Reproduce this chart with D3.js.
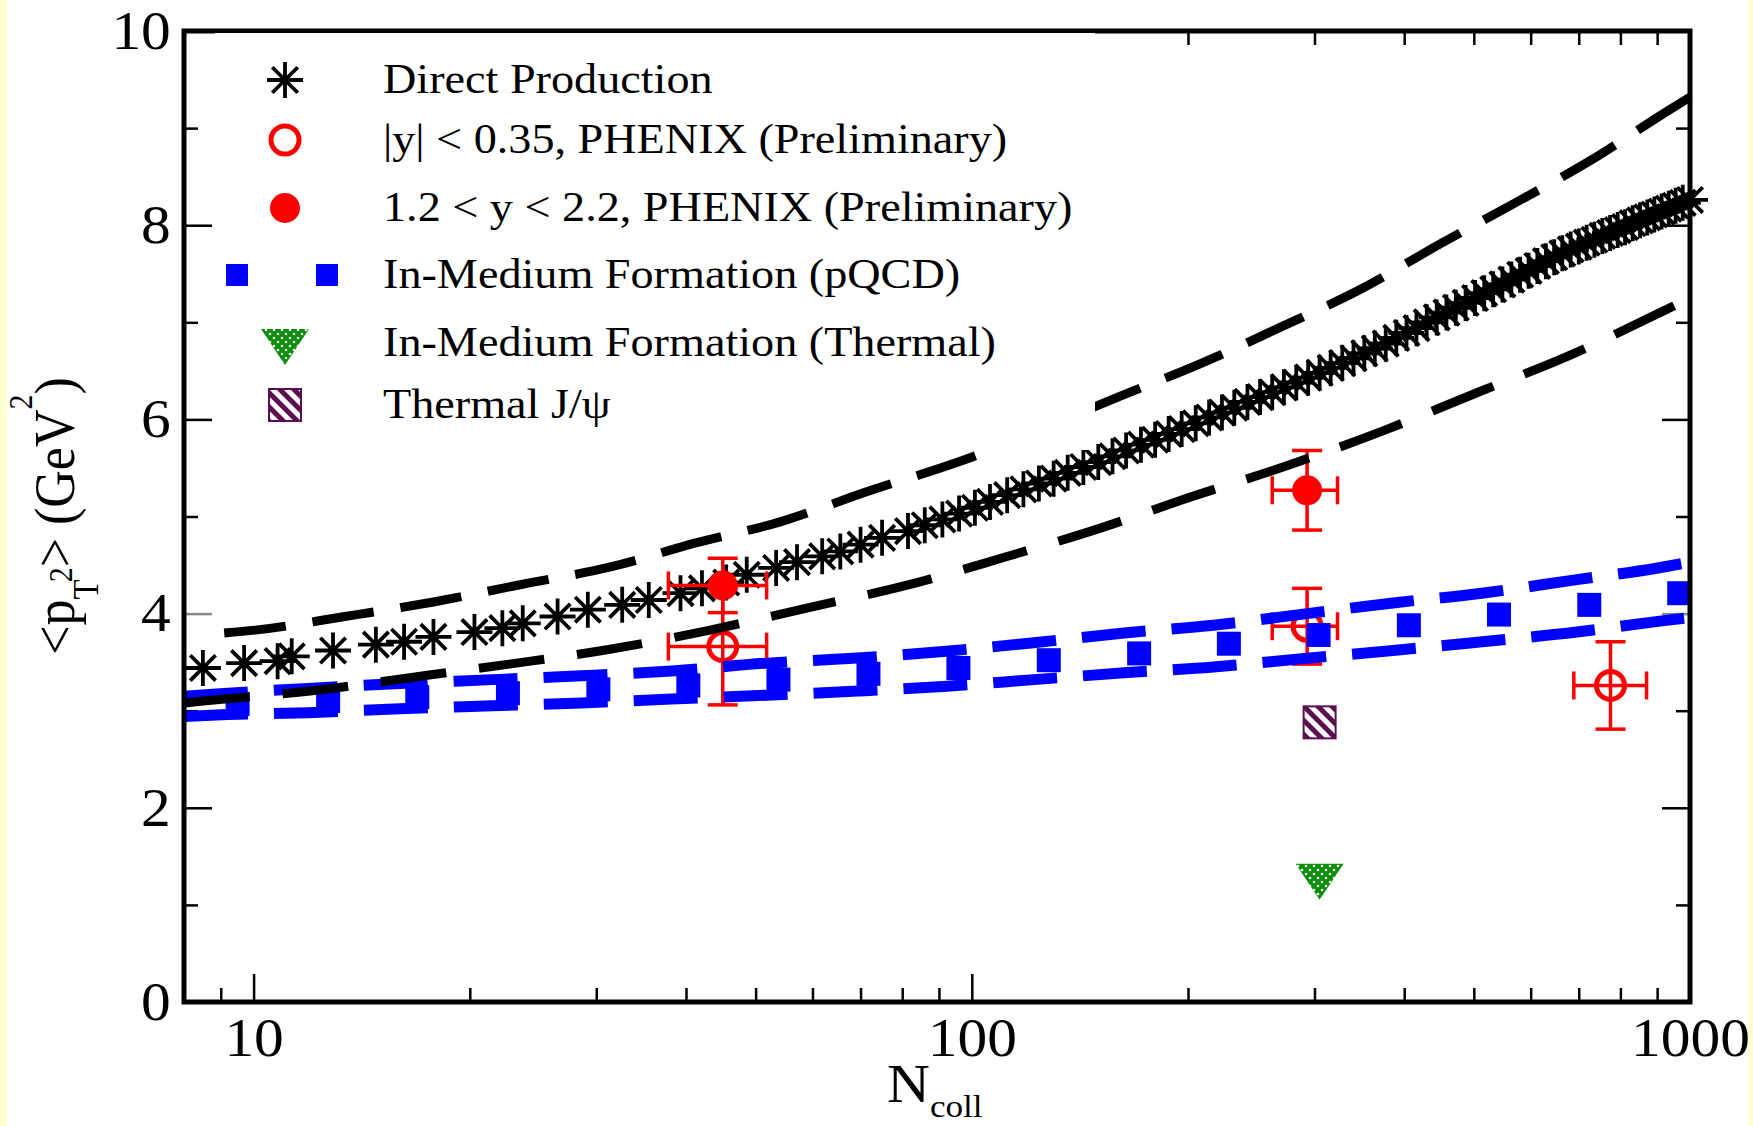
<!DOCTYPE html>
<html>
<head>
<meta charset="utf-8">
<script src="https://cdnjs.cloudflare.com/ajax/libs/d3/7.8.5/d3.min.js"></script>
<style>
	html, body { margin: 0; padding: 0; background: #fff; }
	svg { display: block; }
	text { font-family: 'Liberation Serif', 'Times New Roman', serif; fill: #000; }
</style>
</head>
<body>
<div class="container-viewer"></div>
<script>
//* METHODS FROM D3 *//
const { select, scaleLog, scaleLinear, axisBottom, axisTop, axisLeft, axisRight, line, curveMonotoneX, zip, format } = d3;

//-------------

//* DATA *//
// Direct production (asterisks), Ncoll and <pT^2>
const directN = [8.5, 9.7, 10.8, 11.3, 12.9, 14.8, 16.2, 17.8, 20.3, 22.2, 23.7, 26.5, 29.2, 32.6, 35.5, 39.3, 42.1, 45.5, 48.6, 53.4,
	57.1, 61.9, 65.6, 70, 75, 81.5, 86, 91, 96, 101, 106, 112, 118, 124, 130, 136, 143, 150, 157, 164, 172, 180, 188, 196,
	205, 214, 223, 232, 242, 252, 262, 272, 283, 294, 305, 316, 328, 340, 352, 364, 377, 390, 403, 416, 430, 444, 458, 472,
	487, 502, 517, 532, 548, 564, 580, 596, 613, 630, 647, 664, 682, 700, 718, 736, 755, 774, 793, 812, 832, 852, 872, 892,
	913, 934, 955, 977, 1000];
const directY = [3.44, 3.49, 3.51, 3.56, 3.62, 3.68, 3.71, 3.76, 3.81, 3.85, 3.9, 3.97, 4.04, 4.09, 4.14, 4.21, 4.26, 4.32, 4.4, 4.47,
	4.53, 4.59, 4.64, 4.71, 4.78, 4.85, 4.91, 4.97, 5.03, 5.09, 5.15, 5.22, 5.28, 5.34, 5.39, 5.45, 5.51, 5.56, 5.62, 5.68, 5.74, 5.79, 5.85, 5.9,
	5.96, 6.02, 6.07, 6.12, 6.18, 6.23, 6.28, 6.33, 6.38, 6.43, 6.48, 6.53, 6.58, 6.63, 6.68, 6.73, 6.78, 6.84, 6.89, 6.94, 7.0, 7.05, 7.1, 7.15,
	7.2, 7.25, 7.3, 7.34, 7.39, 7.44, 7.49, 7.53, 7.58, 7.63, 7.67, 7.71, 7.75, 7.78, 7.82, 7.85, 7.89, 7.92, 7.95, 7.98, 8.02, 8.05, 8.08, 8.11,
	8.14, 8.17, 8.2, 8.23, 8.26];

// Upper and lower edge of the direct production band (black dashed)
const directUpperN = [9.1, 10.05, 13.4, 17.8, 23.6, 31.4, 41.4, 54.4, 71.7, 94.8, 161, 209, 271, 350, 447, 571, 728, 923, 1000];
const directUpperY = [3.8, 3.83, 3.97, 4.12, 4.3, 4.48, 4.73, 4.95, 5.26, 5.55, 6.24, 6.58, 6.96, 7.35, 7.8, 8.23, 8.67, 9.16, 9.32];
const directLowerN = [8, 8.5, 11.9, 16.5, 22.7, 31.2, 43.2, 59.1, 81, 111, 151, 196, 279, 376, 507, 685, 908, 1000];
const directLowerY = [3.08, 3.1, 3.2, 3.34, 3.48, 3.63, 3.83, 4.06, 4.29, 4.58, 4.88, 5.17, 5.54, 5.89, 6.28, 6.67, 7.1, 7.25];

// In-medium formation (pQCD): band edges (blue dashed) and central squares
const pqcdBandN = [8, 9.2, 11.9, 16, 21.5, 28.6, 38.2, 51.9, 68.3, 91.2, 122, 163, 217, 293, 386, 513, 696, 902, 1000];
const pqcdUpperY = [3.15, 3.18, 3.23, 3.28, 3.32, 3.36, 3.41, 3.49, 3.54, 3.61, 3.7, 3.8, 3.88, 4.0, 4.11, 4.21, 4.35, 4.47, 4.53];
const pqcdLowerY = [2.94, 2.96, 2.98, 3.02, 3.05, 3.08, 3.12, 3.16, 3.2, 3.25, 3.32, 3.39, 3.45, 3.54, 3.62, 3.71, 3.81, 3.92, 3.96];
const pqcdN = [9.5, 12.7, 16.9, 22.6, 30.2, 40.3, 53.8, 71.8, 95.8, 128, 171, 228, 304, 406, 542, 724, 966];
const pqcdY = [3.07, 3.1, 3.14, 3.18, 3.22, 3.26, 3.32, 3.38, 3.44, 3.52, 3.59, 3.69, 3.78, 3.88, 3.99, 4.09, 4.21];

// PHENIX points: [Ncoll, <pT^2>, error <pT^2>, Ncoll low, Ncoll high]
const phenixMid = [[45, 3.66, 0.6, 37.8, 51.8], [293, 3.87, 0.39, 262, 323], [775, 3.26, 0.45, 689, 870]];
const phenixForward = [[45, 4.29, 0.28, 37.8, 51.8], [293, 5.27, 0.41, 262, 323]];

// Single thermal points
const thermalFormation = [[305, 1.28]];
const thermalJpsi = [[305, 2.88]];

// Ticks and texts
const xMajorTicks = [10, 100, 1000];
const xMinorTicks = [9, 20, 30, 40, 50, 60, 70, 80, 90, 200, 300, 400, 500, 600, 700, 800, 900];
const yMajorTicks = [0, 2, 4, 6, 8, 10];
const yMinorTicks = [1, 3, 5, 7, 9];
const legendLabels = [
	'Direct Production',
	'|y| < 0.35, PHENIX (Preliminary)',
	'1.2 < y < 2.2, PHENIX (Preliminary)',
	'In-Medium Formation (pQCD)',
	'In-Medium Formation (Thermal)',
	'Thermal J/\u03c8',
];

//-------------

//* LAYOUT *//
const width = 1753;
const height = 1126;
const plot = { left: 184, right: 1690, top: 31, bottom: 1002 };
const stretch = 1.1; // the original picture is a bit wider than tall
const red = '#ff0000';
const blue = '#0000ff';
const green = '#0a8f0a';
const purple = '#5c0f50';

const x = scaleLog().domain([8, 1000]).range([plot.left, plot.right]);
const y = scaleLinear().domain([0, 10]).range([plot.bottom, plot.top]);

const svg = select('.container-viewer').append('svg').attr('width', width).attr('height', height);

// light yellow strips on both sides of the slide
svg.append('rect').attr('x', 0).attr('y', 0).attr('width', 7).attr('height', height).attr('fill', '#ffffd0');
svg.append('rect').attr('x', 1748).attr('y', 0).attr('width', 5).attr('height', height).attr('fill', '#ffffd0');

// patterns for the thermal markers
const defs = svg.append('defs');
const dots = defs.append('pattern').attr('id', 'dots').attr('patternUnits', 'userSpaceOnUse').attr('width', 8).attr('height', 8);
dots.append('rect').attr('width', 8).attr('height', 8).attr('fill', green);
dots.append('circle').attr('cx', 2).attr('cy', 2).attr('r', 1.3).attr('fill', '#fff');
dots.append('circle').attr('cx', 6).attr('cy', 6).attr('r', 1.3).attr('fill', '#fff');
const hatch = defs.append('pattern').attr('id', 'hatch').attr('patternUnits', 'userSpaceOnUse')
	.attr('width', 10).attr('height', 10).attr('patternTransform', 'rotate(-45)');
hatch.append('rect').attr('width', 10).attr('height', 10).attr('fill', '#fff');
hatch.append('rect').attr('width', 5).attr('height', 10).attr('fill', purple);

//-------------

//* AXES *//
function drawAxis(axis, tx, ty) {
	const g = svg.append('g').attr('transform', `translate(${tx},${ty})`).call(axis);
	g.select('.domain').remove();
	g.selectAll('.tick line').attr('stroke', '#000').attr('stroke-width', 2.5);
	g.selectAll('.tick text')
		.attr('font-family', 'Liberation Serif')
		.attr('font-size', 54)
		.attr('fill', '#000')
		.attr('transform', `scale(${stretch},1)`);
	g.selectAll('.tick').filter((d) => d === 4).select('line').attr('stroke', '#888');
	return g;
}

drawAxis(axisBottom(x).tickValues(xMajorTicks).tickSizeInner(-28).tickSizeOuter(0).tickPadding(16).tickFormat(format('d')), 0, plot.bottom);
drawAxis(axisBottom(x).tickValues(xMinorTicks).tickSizeInner(-14).tickSizeOuter(0).tickFormat(''), 0, plot.bottom);
drawAxis(axisTop(x).tickValues(xMajorTicks).tickSizeInner(-28).tickSizeOuter(0).tickFormat(''), 0, plot.top);
drawAxis(axisTop(x).tickValues(xMinorTicks).tickSizeInner(-14).tickSizeOuter(0).tickFormat(''), 0, plot.top);
drawAxis(axisLeft(y).tickValues(yMajorTicks).tickSizeInner(-28).tickSizeOuter(0).tickPadding(12).tickFormat(format('d')), plot.left, 0);
drawAxis(axisLeft(y).tickValues(yMinorTicks).tickSizeInner(-14).tickSizeOuter(0).tickFormat(''), plot.left, 0);
drawAxis(axisRight(y).tickValues(yMajorTicks).tickSizeInner(-28).tickSizeOuter(0).tickFormat(''), plot.right, 0);
drawAxis(axisRight(y).tickValues(yMinorTicks).tickSizeInner(-14).tickSizeOuter(0).tickFormat(''), plot.right, 0);

//-------------

//* MARKERS *//
function asteriskPath(r) {
	const d = r * Math.SQRT1_2;
	return `M${-r},0H${r}M0,${-r}V${r}M${-d},${-d}L${d},${d}M${-d},${d}L${d},${-d}`;
}
function drawAsterisk(g, cx, cy) {
	g.append('path').attr('transform', `translate(${cx},${cy})`).attr('d', asteriskPath(18))
		.attr('fill', 'none').attr('stroke', '#000').attr('stroke-width', 3.8);
}
function drawCircle(g, cx, cy, filled) {
	if (filled) g.append('circle').attr('cx', cx).attr('cy', cy).attr('r', 15).attr('fill', red);
	else g.append('circle').attr('cx', cx).attr('cy', cy).attr('r', 14).attr('fill', 'none').attr('stroke', red).attr('stroke-width', 5);
}
function drawSquare(g, cx, cy, s) {
	g.append('rect').attr('x', cx - s / 2).attr('y', cy - s / 2).attr('width', s).attr('height', s).attr('fill', blue);
}
function drawTriangle(g, cx, cy) {
	g.append('path').attr('d', `M${cx - 24},${cy - 14}L${cx + 24},${cy - 14}L${cx},${cy + 22}Z`).attr('fill', 'url(#dots)');
}
function drawHatchSquare(g, cx, cy) {
	g.append('rect').attr('x', cx - 16).attr('y', cy - 16).attr('width', 32).attr('height', 32)
		.attr('fill', 'url(#hatch)').attr('stroke', purple).attr('stroke-width', 2);
}

//-------------

//* SERIES *//
// Direct production asterisks
const starsG = svg.append('g');
zip(directN, directY).forEach(([n, v]) => drawAsterisk(starsG, x(n), y(v)));

// PHENIX data with error bars
function drawPhenix(data, filled) {
	const g = svg.append('g');
	data.forEach(([n, v, err, lo, hi]) => {
		const cx = x(n);
		const cy = y(v);
		const bars = g.append('g').attr('stroke', red).attr('stroke-width', 3.5);
		bars.append('line').attr('x1', cx).attr('x2', cx).attr('y1', y(v + err)).attr('y2', y(v - err));
		bars.append('line').attr('x1', x(lo)).attr('x2', x(hi)).attr('y1', cy).attr('y2', cy);
		[y(v + err), y(v - err)].forEach((yy) => bars.append('line').attr('x1', cx - 15).attr('x2', cx + 15).attr('y1', yy).attr('y2', yy));
		[x(lo), x(hi)].forEach((xx) => bars.append('line').attr('x1', xx).attr('x2', xx).attr('y1', cy - 14).attr('y2', cy + 14));
		drawCircle(g, cx, cy, filled);
	});
}
drawPhenix(phenixMid, false);
drawPhenix(phenixForward, true);

// pQCD band
const curve = line().x((d) => x(d[0])).y((d) => y(d[1])).curve(curveMonotoneX);
[pqcdUpperY, pqcdLowerY].forEach((vals) => {
	svg.append('path').datum(zip(pqcdBandN, vals)).attr('d', curve)
		.attr('fill', 'none').attr('stroke', blue).attr('stroke-width', 11).attr('stroke-dasharray', '64,26');
});
const squaresG = svg.append('g');
zip(pqcdN, pqcdY).forEach(([n, v]) => drawSquare(squaresG, x(n), y(v), 24));

// direct production band edges
svg.append('path').datum(zip(directUpperN, directUpperY)).attr('d', curve)
	.attr('fill', 'none').attr('stroke', '#000').attr('stroke-width', 9).attr('stroke-dasharray', '62,27');
svg.append('path').datum(zip(directLowerN, directLowerY)).attr('d', curve)
	.attr('fill', 'none').attr('stroke', '#000').attr('stroke-width', 9).attr('stroke-dasharray', '66,33');

// thermal points
const thermalG = svg.append('g');
thermalJpsi.forEach(([n, v]) => drawHatchSquare(thermalG, x(n), y(v)));
thermalFormation.forEach(([n, v]) => drawTriangle(thermalG, x(n), y(v)));

// frame
svg.append('rect').attr('x', plot.left).attr('y', plot.top)
	.attr('width', plot.right - plot.left).attr('height', plot.bottom - plot.top)
	.attr('fill', 'none').attr('stroke', '#000').attr('stroke-width', 5);

//-------------

//* LEGEND *//
// white legend box, it hides the top ticks below 200
svg.append('rect').attr('x', 215).attr('y', 33).attr('width', 880).attr('height', 417).attr('fill', '#fff');

const legendG = svg.append('g');
const rowY = [80, 140, 208, 275, 343, 405];
drawAsterisk(legendG, 285, rowY[0]);
drawCircle(legendG, 285, rowY[1], false);
drawCircle(legendG, 285, rowY[2], true);
drawSquare(legendG, 237, rowY[3], 22);
drawSquare(legendG, 327, rowY[3], 22);
drawTriangle(legendG, 285, rowY[4]);
drawHatchSquare(legendG, 285, rowY[5]);

legendLabels.forEach((txt, i) => {
	legendG.append('text')
		.attr('transform', `translate(383,${rowY[i] + 13}) scale(${stretch},1)`)
		.attr('font-size', 42)
		.text(txt);
});

//-------------

//* AXIS TITLES *//
const xTitle = svg.append('text').attr('transform', `translate(887,1102) scale(${stretch},1)`).attr('font-size', 54);
xTitle.append('tspan').text('N');
xTitle.append('tspan').attr('font-size', 32).attr('dy', 15).text('coll');

const yTitle = svg.append('text')
	.attr('transform', `translate(74,516) rotate(-90) scale(1,${stretch})`)
	.attr('text-anchor', 'middle')
	.attr('font-size', 52);
yTitle.append('tspan').text('<p');
yTitle.append('tspan').attr('font-size', 33).attr('dy', 22).text('T');
yTitle.append('tspan').attr('font-size', 30).attr('dx', -3).attr('dy', -24).text('2');
yTitle.append('tspan').attr('dy', 2).text('> (GeV');
yTitle.append('tspan').attr('font-size', 30).attr('dy', -38).text('2');
yTitle.append('tspan').attr('dy', 38).text(')');
</script>
</body>
</html>
